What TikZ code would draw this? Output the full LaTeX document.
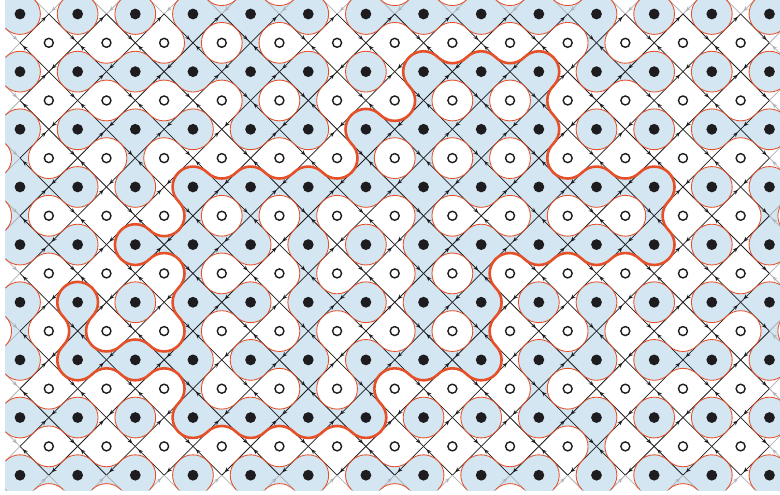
\documentclass[tikz,border=0pt]{standalone}
\usetikzlibrary{arrows.meta,decorations.markings}
\definecolor{cblue}{RGB}{211,230,242}
\definecolor{cred}{RGB}{230,80,40}
\definecolor{cline}{RGB}{30,28,30}
\definecolor{cgray}{RGB}{175,178,182}
\tikzset{
  thinloop/.style={cred, line width=0.85pt},
  thickloop/.style={cred, line width=2.6pt, line cap=round},
  latline/.style={line width=0.8pt},
  openmark/.style={draw=cline, line width=1.4pt, fill=white},
}
\newcommand\Sp{57.65}
\newcommand\Rr{20.383}
% H vertices: rows j=0..8, entries i=0..12 (between dot i and i+1); 1 = dots joined
\def\Hdata{{0,0,0,1,1,0,1,1,1,1,0,0,0},{0,1,1,1,1,0,0,1,1,0,1,0,0},{0,1,1,0,1,0,1,1,1,0,0,0,1},{1,0,0,1,1,1,1,1,1,1,1,0,0},{1,0,1,1,0,0,0,1,1,1,1,0,0},{0,0,0,1,0,1,0,1,0,0,0,0,1},{0,1,1,0,1,0,1,1,0,1,0,1,0},{1,0,0,1,1,1,0,0,0,1,0,0,0},{1,1,0,0,1,0,1,0,1,0,0,1,0}}
% V vertices: rows j=0..7 (between row j and j+1), entries i=0..13
\def\Vdata{{0,0,0,1,1,0,0,0,0,0,1,0,0,0},{0,0,0,0,1,1,0,1,1,1,0,0,0,0},{1,0,1,0,0,0,1,1,1,1,0,0,0,0},{1,0,0,1,1,1,0,1,0,1,0,1,0,1},{0,0,0,1,0,1,0,1,1,0,0,0,0,0},{1,1,0,1,0,1,0,1,1,0,1,0,0,1},{0,0,0,1,0,1,1,0,0,1,0,0,0,0},{0,0,0,0,0,0,0,0,0,0,1,0,0,0}}
% thick loop arcs: u/v/k  (centre in lattice units, k = 0 right,1 down,2 left,3 up)
\def\Thick{5/3/3,4.5/2.5/1,4/3/3,3.5/2.5/1,3/3/3,3/3/2,2.5/3.5/0,2.5/3.5/1,2/4/3,2/4/2,2/4/1,2.5/4.5/3,2.5/4.5/0,3/5/2,2.5/5.5/0,2.5/5.5/1,2/6/3,1.5/5.5/1,1.5/5.5/2,1/5/0,1/5/3,1/5/2,0.5/5.5/0,1/6/2,1/6/1,1.5/6.5/3,2/6/1,2.5/6.5/3,2.5/6.5/0,3/7/2,3/7/1,3.5/7.5/3,4/7/1,4.5/7.5/3,5/7/1,5.5/7.5/3,6/7/1,6/7/0,6.5/6.5/2,6.5/6.5/3,7/6/1,7.5/6.5/3,8/6/1,8/6/0,8.5/5.5/2,8/5/0,8.5/4.5/2,8.5/4.5/3,9/4/1,9.5/4.5/3,10/4/1,10.5/4.5/3,11/4/1,11/4/0,11.5/3.5/2,11/3/0,11/3/3,10.5/2.5/1,10/3/3,9.5/2.5/1,9.5/2.5/2,9/2/0,9.5/1.5/2,9/1/0,9/1/3,8.5/0.5/1,8/1/3,7.5/0.5/1,7/1/3,7/1/2,6.5/1.5/0,6.5/1.5/1,6/2/3,6/2/2,5.5/2.5/0,5.5/2.5/1}
\newcommand\qarc[4]{%
  \draw[#4] ({#1+\Rr*cos(90*#3-45)},{#2+\Rr*sin(90*#3-45)}) arc[start angle={90*#3-45}, end angle={90*#3+45}, radius=\Rr];}
\newcommand\latedge[4]{%
  \pgfmathtruncatemacro\outside{or(or(or(#1<4,#1>781),or(#2<-1,#2>491)),or(or(#3<4,#3>781),or(#4<-1,#4>491)))}%
  \ifnum\outside=1 \def\lc{cgray}\else\def\lc{cline}\fi
  \draw[latline,\lc,postaction={decorate},decoration={markings,mark=at position 0.9 with {\arrow{Stealth[length=5pt,width=4pt]}}}] (#1,#2) -- (#3,#4);}
\begin{document}
\begin{tikzpicture}[x=1pt,y=-1pt]
\useasboundingbox (0,0) rectangle (780,495);
\begin{scope}
\clip (5,0) rectangle (780,490);
\fill[white] (0,0) rectangle (790,500);
% blue corner squares at joined vertices
\foreach \row [count=\j from 0] in \Hdata {
  \foreach \b [count=\i from 0] in \row {
    \ifnum\b=1
      \pgfmathsetmacro\vx{20+\Sp*(\i+0.5)}
      \pgfmathsetmacro\vy{14+\Sp*\j}
      \fill[cblue] ({\vx-\Sp/4},{\vy-\Sp/4}) rectangle ({\vx+\Sp/4},{\vy+\Sp/4});
    \fi
  }
}
\foreach \row [count=\j from 0] in \Vdata {
  \foreach \b [count=\i from 0] in \row {
    \ifnum\b=1
      \pgfmathsetmacro\vx{20+\Sp*\i}
      \pgfmathsetmacro\vy{14+\Sp*(\j+0.5)}
      \fill[cblue] ({\vx-\Sp/4},{\vy-\Sp/4}) rectangle ({\vx+\Sp/4},{\vy+\Sp/4});
    \fi
  }
}
% disks
\foreach \i in {-1,...,14}{
  \foreach \j in {-1,...,9}{
    \fill[cblue] ({20+\Sp*\i},{14+\Sp*\j}) circle[radius=\Rr];
    \fill[white] ({20+\Sp*(\i+0.5)},{14+\Sp*(\j+0.5)}) circle[radius=\Rr];
  }
}
% lattice lines with arrows (each blue diamond oriented counterclockwise)
\foreach \i in {-1,...,14}{
  \foreach \j in {-1,...,9}{
    \pgfmathsetmacro\cx{20+\Sp*\i}
    \pgfmathsetmacro\cy{14+\Sp*\j}
    \pgfmathsetmacro\xl{\cx-\Sp/2}
    \pgfmathsetmacro\xr{\cx+\Sp/2}
    \pgfmathsetmacro\yt{\cy-\Sp/2}
    \pgfmathsetmacro\yb{\cy+\Sp/2}
    \latedge{\xr}{\cy}{\cx}{\yt}
    \latedge{\cx}{\yt}{\xl}{\cy}
    \latedge{\xl}{\cy}{\cx}{\yb}
    \latedge{\cx}{\yb}{\xr}{\cy}
  }
}
% loop arcs
\foreach \row [count=\j from 0] in \Hdata {
  \foreach \b [count=\i from 0] in \row {
    \pgfmathsetmacro\vx{20+\Sp*(\i+0.5)}
    \pgfmathsetmacro\vy{14+\Sp*\j}
    \ifnum\b=0
      \qarc{\vx-\Sp/2}{\vy}{0}{thinloop}
      \qarc{\vx+\Sp/2}{\vy}{2}{thinloop}
    \else
      \qarc{\vx}{\vy-\Sp/2}{1}{thinloop}
      \qarc{\vx}{\vy+\Sp/2}{3}{thinloop}
    \fi
  }
}
\foreach \row [count=\j from 0] in \Vdata {
  \foreach \b [count=\i from 0] in \row {
    \pgfmathsetmacro\vx{20+\Sp*\i}
    \pgfmathsetmacro\vy{14+\Sp*(\j+0.5)}
    \ifnum\b=0
      \qarc{\vx}{\vy-\Sp/2}{1}{thinloop}
      \qarc{\vx}{\vy+\Sp/2}{3}{thinloop}
    \else
      \qarc{\vx-\Sp/2}{\vy}{0}{thinloop}
      \qarc{\vx+\Sp/2}{\vy}{2}{thinloop}
    \fi
  }
}
\foreach \u/\v/\k in \Thick {
  \qarc{20+\Sp*\u}{14+\Sp*\v}{\k}{thickloop}
}
% sites
\foreach \i in {0,...,13}{
  \foreach \j in {0,...,8}{
    \fill[cline] ({20+\Sp*\i},{14+\Sp*\j}) circle[radius=5.4];
  }
}
\foreach \i in {-1,...,13}{
  \foreach \j in {-1,...,8}{
    \draw[openmark] ({20+\Sp*(\i+0.5)},{14+\Sp*(\j+0.5)}) circle[radius=4.5];
  }
}
\end{scope}
\end{tikzpicture}
\end{document}
